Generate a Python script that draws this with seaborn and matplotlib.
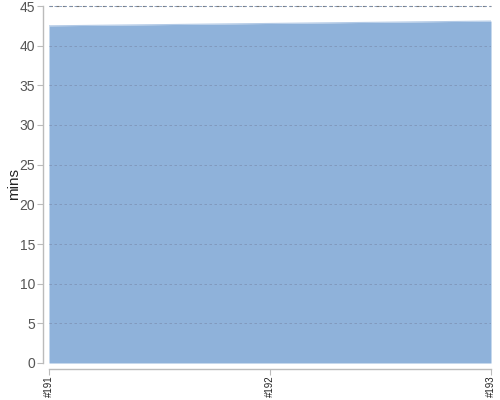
import seaborn as sns
import matplotlib.pyplot as plt
import pandas as pd

builds = ["#191", "#192", "#193"]
mins = [42.5, 42.8, 43.1]

df = pd.DataFrame({"build": builds, "mins": mins})
df["pos"] = range(len(df))

sns.set_style("white")
plt.rcParams['font.family'] = ['Liberation Sans', 'DejaVu Sans']

fig = plt.figure(figsize=(5, 4), dpi=100)
ax = fig.add_axes([0.098, 0.0925, 0.884, 0.8925])

ax.fill_between(df["pos"], 0, df["mins"], color="#8fb2da", linewidth=0, zorder=1)
sns.lineplot(data=df, x="pos", y="mins", ax=ax, color="#b3cae6", linewidth=0.8, zorder=2)

ax.set_xlim(0, len(df) - 1)
ax.set_ylim(0, 45)
ax.set_yticks(range(0, 46, 5))
ax.set_xticks(df["pos"])
ax.set_xticklabels(df["build"])
ax.set_xlabel("")
ax.set_ylabel("mins", fontsize=11, color="#222222")
ax.yaxis.set_label_coords(-0.063, 0.5)

ax.yaxis.grid(True, linestyle=(0, (3, 3)), color="#7f95b8", linewidth=0.6, zorder=3)
ax.set_axisbelow(False)
ax.axhline(45, linestyle=(0, (3, 3)), color="#777777", linewidth=0.8, clip_on=False)

sns.despine(ax=ax, offset=4)
for s in ["left", "bottom"]:
    ax.spines[s].set_color("#bbbbbb")
    ax.spines[s].set_linewidth(1)

ax.tick_params(axis="y", labelsize=10, labelcolor="#555555", left=True, length=4, color="#bbbbbb", pad=2)
ax.tick_params(axis="x", bottom=True, length=4, color="#bbbbbb", pad=1,
               labelrotation=90, labelsize=7, labelcolor="#222222")

fig.savefig("out.png", dpi=100)
